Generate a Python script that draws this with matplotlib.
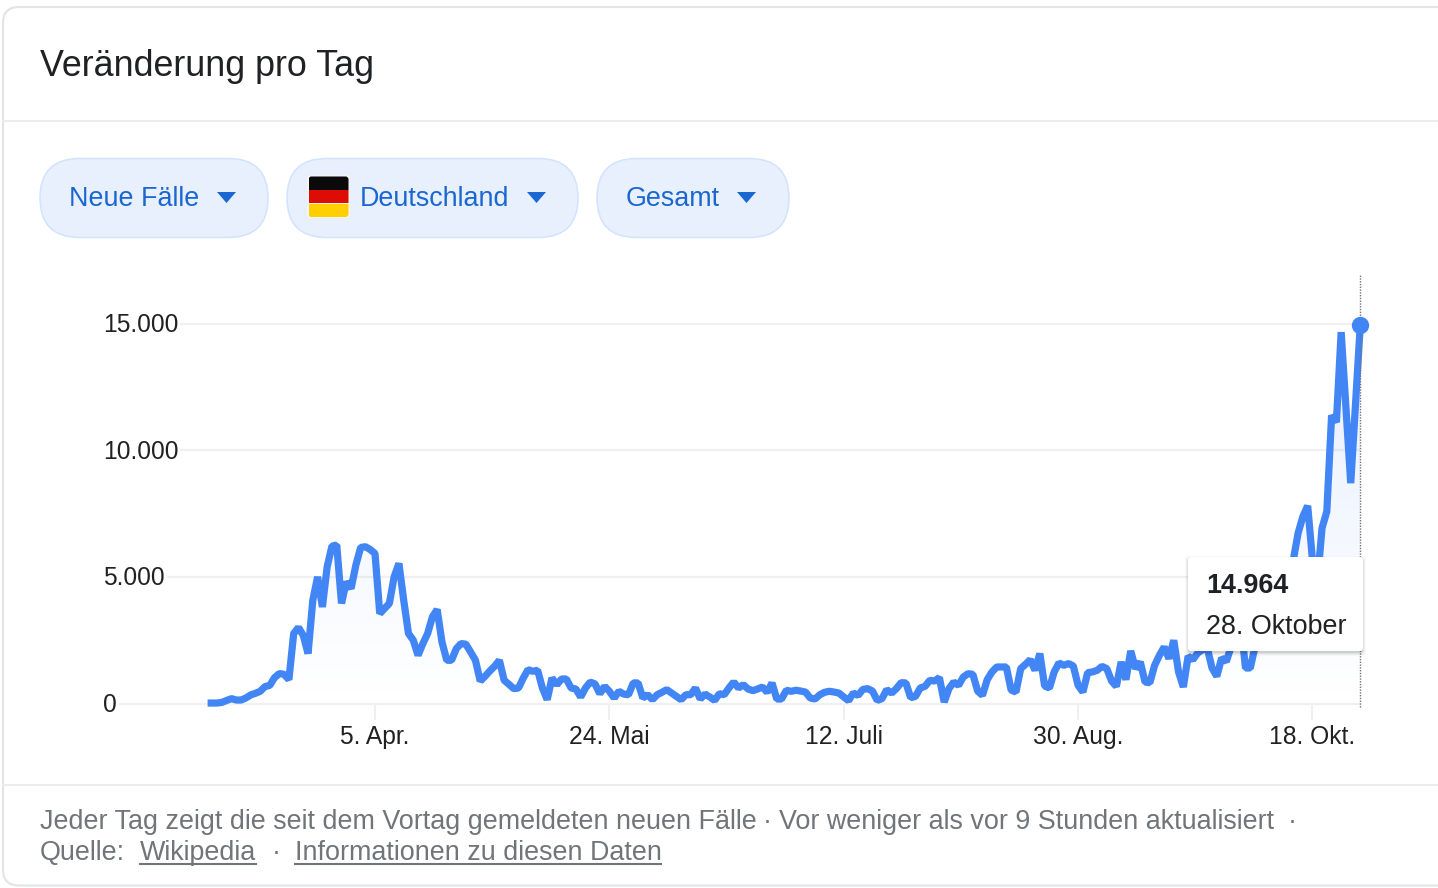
import matplotlib
matplotlib.use("Agg")
import matplotlib.pyplot as plt
import matplotlib.dates as mdates
import numpy as np
import pandas as pd
from matplotlib.patches import FancyBboxPatch, Rectangle, Polygon

plt.rcParams['font.family'] = ['Liberation Sans', 'DejaVu Sans']

# Neue Faelle pro Tag, ab 1. Maerz
neue_faelle = [
    26, 26, 26, 53, 130, 200, 145, 145, 225, 345, 410, 490, 675, 725, 1030, 1190, 1160, 950, 2770, 3010,
    2700, 1980, 4090, 5010, 3820, 5410, 6225, 6265, 3960, 4815, 4550, 5475, 6170, 6200, 6090, 5930, 3560, 3760, 3960, 5010,
    5540, 4090, 2770, 2510, 1910, 2370, 2770, 3430, 3720, 2440, 1715, 1715, 2175, 2375, 2350, 2040, 1715, 895, 1080, 1290,
    1480, 1715, 925, 765, 595, 620, 1015, 1345, 1280, 1320, 620, 160, 1015, 750, 975, 975, 620, 580, 265, 620,
    855, 780, 395, 685, 490, 225, 490, 380, 355, 820, 820, 225, 355, 160, 355, 450, 555, 420, 290, 160,
    355, 355, 620, 185, 380, 265, 130, 395, 355, 620, 855, 620, 750, 580, 515, 580, 660, 450, 820, 185,
    185, 530, 490, 530, 500, 460, 225, 185, 355, 450, 490, 460, 420, 265, 120, 420, 330, 565, 595, 500,
    130, 200, 555, 420, 595, 830, 820, 235, 290, 620, 685, 925, 895, 1030, 65, 595, 855, 725, 1055, 1185,
    1160, 500, 330, 950, 1255, 1450, 1450, 1450, 540, 460, 1385, 1555, 1740, 1320, 1980, 700, 620, 1255, 1610, 1515,
    1585, 1490, 725, 460, 1225, 1255, 1320, 1475, 1385, 895, 685, 1650, 950, 2085, 1385, 1650, 855, 830, 1515, 1910,
    2240, 1780, 2505, 1255, 660, 1875, 1740, 2000, 2130, 2200, 1410, 1080, 1800, 1670, 2260, 2790, 3185, 1410, 1410, 2260,
    3050, 3185, 3710, 3975, 3975, 4630, 4500, 5685, 6740, 7395, 7815, 5685, 4765, 6935, 7595, 11385, 11120, 14675, 11670, 8710,
    11870, 14964,
]
tage = pd.date_range("2020-03-01", periods=len(neue_faelle), freq="D")

y_ticks = [0, 5000, 10000, 15000]
y_labels = ["0", "5.000", "10.000", "15.000"]
x_tick_tage = ["2020-04-05", "2020-05-24", "2020-07-12", "2020-08-30", "2020-10-18"]
x_labels = ["5. Apr.", "24. Mai", "12. Juli", "30. Aug.", "18. Okt."]

BREITE, HOEHE = 1438, 888
blau = "#4285f4"
chip_blau = "#1a67d2"
grau_text = "#70757a"
schwarz = "#202124"
linie = "#f0f0f0"

fig = plt.figure(figsize=(BREITE / 100, HOEHE / 100), dpi=100, facecolor="white")

# Hintergrund in Pixelkoordinaten (Karte, Chips, Texte)
ui = fig.add_axes([0, 0, 1, 1], zorder=0)
ui.set_xlim(0, BREITE)
ui.set_ylim(HOEHE, 0)
ui.axis("off")

ui.add_patch(FancyBboxPatch((3, 7), 1500, 878.5, boxstyle="round,pad=0,rounding_size=16",
                            fc="white", ec="#e3e4e6", lw=1.5))
ui.plot([3, BREITE], [121, 121], color="#ebebeb", lw=1.4)
ui.plot([3, BREITE], [785, 785], color="#ebebeb", lw=1.4)
ui.text(40, 76, "Veränderung pro Tag", fontsize=25.85, color=schwarz, va="baseline")

# Chips
chips = [(40, 268, "Neue Fälle", 69, 217), (287, 578, "Deutschland", 360, 527), (597, 789, "Gesamt", 626, 737)]
for links, rechts, name, text_x, pfeil_x in chips:
    ui.add_patch(FancyBboxPatch((links, 158.5), rechts - links, 79, boxstyle="round,pad=0,rounding_size=39.5",
                                fc="#e8f0fe", ec="#d2e3fc", lw=1.1))
    ui.text(text_x, 206, name, fontsize=19.4, color=chip_blau, va="baseline")
    ui.add_patch(Polygon([(pfeil_x, 192), (pfeil_x + 19, 192), (pfeil_x + 9.5, 203)], fc=chip_blau, ec="none"))

# Flagge
ui.add_patch(FancyBboxPatch((307, 175), 43, 43, boxstyle="round,pad=0,rounding_size=4", fc="#f4f4f4", ec="none"))
flaggen_rand = FancyBboxPatch((308.5, 176.5), 40, 40.5, boxstyle="round,pad=0,rounding_size=3", fc="none", ec="none")
ui.add_patch(flaggen_rand)
for y0, farbe in [(176.5, "#0a0a0a"), (190, "#dd0c05"), (203.5, "#ffcf00")]:
    streifen = Rectangle((308.5, y0), 40, 13.5, fc=farbe, ec="none")
    ui.add_patch(streifen)
    streifen.set_clip_path(flaggen_rand)

# Fusszeile
fuss1 = [(40, "Jeder Tag zeigt die seit dem Vortag gemeldeten neuen Fälle"), (763, "·"),
         (779, "Vor weniger als vor 9 Stunden aktualisiert"), (1288, "·")]
fuss2 = [(40, "Quelle:"), (140, "Wikipedia"), (272, "·"), (295, "Informationen zu diesen Daten")]
for x, t in fuss1:
    ui.text(x, 829, t, fontsize=19.35, color=grau_text, va="baseline")
for x, t in fuss2:
    ui.text(x, 860, t, fontsize=19.35, color=grau_text, va="baseline")
ui.plot([140, 256], [863.5, 863.5], color=grau_text, lw=1.5)
ui.plot([295, 661], [863.5, 863.5], color=grau_text, lw=1.5)

# Diagramm
px_pro_tag = 4.783
y0_px, y_top_px = 703.7, 275
px_pro_fall = 126.6 / 5000
links_px, rechts_px = 103, 1360.5
ax = fig.add_axes([links_px / BREITE, (HOEHE - y0_px) / HOEHE, (rechts_px - links_px) / BREITE,
                   (y0_px - y_top_px) / HOEHE], zorder=1)
ax.patch.set_alpha(0)
x = mdates.date2num(tage)
x_ticks = mdates.date2num(pd.to_datetime(x_tick_tage))
x_min = x_ticks[0] - (375 - links_px) / px_pro_tag
x_max = x_ticks[0] + (rechts_px - 375) / px_pro_tag
y_max = (y0_px - y_top_px) / px_pro_fall

for s in ax.spines.values():
    s.set_visible(False)

ax.hlines(y_ticks, x_min, x[-1], color=linie, lw=1.6, zorder=1, clip_on=False)

# Flaeche mit Verlauf
verlauf = np.zeros((256, 1, 4))
verlauf[..., 0] = 66 / 255
verlauf[..., 1] = 133 / 255
verlauf[..., 2] = 244 / 255
verlauf[..., 3] = np.linspace(0.13, 0.0, 256)[:, None]
flaeche = ax.fill_between(x, neue_faelle, 0, color="none")
bild = ax.imshow(verlauf, extent=[x[0], x[-1], 0, max(neue_faelle)], aspect="auto", zorder=2, origin="upper")
bild.set_clip_path(flaeche.get_paths()[0], transform=ax.transData)

ax.plot(x, neue_faelle, color=blau, lw=5.2, solid_joinstyle="bevel", solid_capstyle="butt", zorder=3, clip_on=False)
ax.plot(x[-1], neue_faelle[-1], "o", color=blau, ms=12.5, mew=0, zorder=4, clip_on=False)
ax.plot([x[-1], x[-1]], [-130, y_max], color="#70757a", lw=1, linestyle=(0, (1, 1)), zorder=3, clip_on=False)

ax.set_xlim(x_min, x_max)
ax.set_ylim(0, y_max)
ax.set_xticks(x_ticks)
ax.set_xticklabels(x_labels, fontsize=17.7, color=schwarz)
ax.tick_params(axis="x", length=11.5, width=1.5, color=linie, pad=3.8)
ax.set_yticks([])

for wert, label in zip(y_ticks, y_labels):
    ax.annotate(label, xy=(x_min, wert), xytext=(0, -5.8), textcoords="offset points", fontsize=17.7,
                color=schwarz, va="baseline", ha="left", zorder=5,
                bbox=dict(fc="white", ec="none", pad=1.5), annotation_clip=False)

# Tooltip
top = fig.add_axes([0, 0, 1, 1], zorder=2)
top.set_xlim(0, BREITE)
top.set_ylim(HOEHE, 0)
top.axis("off")
top.patch.set_alpha(0)
for d, a in [(3, 0.025), (2, 0.04), (1, 0.06), (0, 0.08)]:
    top.add_patch(FancyBboxPatch((1188 - d, 557 + 2 - d), 175 + 2 * d, 94 + 2 * d,
                                 boxstyle="round,pad=0,rounding_size=4", fc="black", ec="none", alpha=a))
top.add_patch(FancyBboxPatch((1188, 557), 175, 94, boxstyle="round,pad=0,rounding_size=3", fc="white", ec="none"))
top.text(1206, 593, "14.964", fontsize=19.4, fontweight="bold", color=schwarz, va="baseline")
top.text(1206, 634, "28. Oktober", fontsize=19.4, color=schwarz, va="baseline")

fig.savefig("out.png", dpi=100)
